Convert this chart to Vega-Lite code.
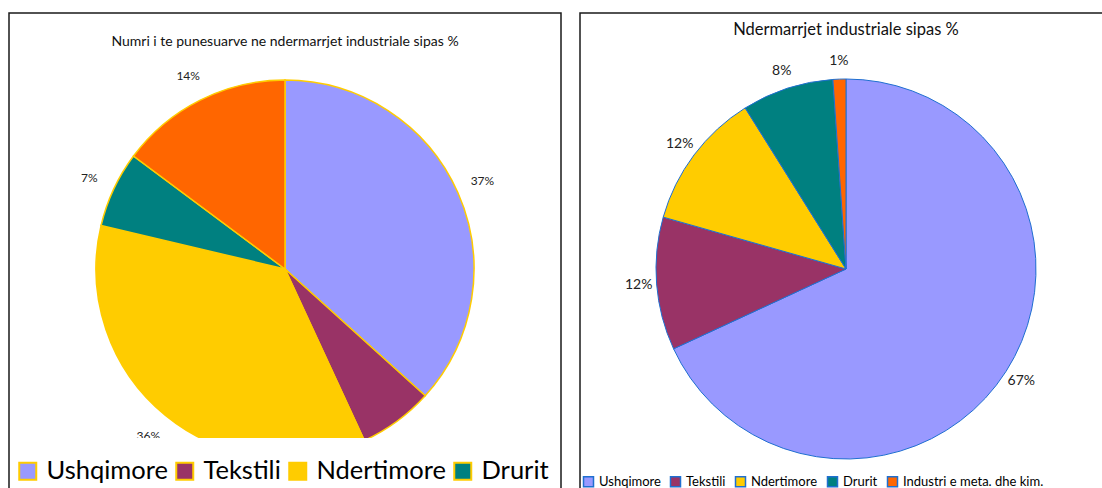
{
  "$schema": "https://vega.github.io/schema/vega-lite/v6.json",
  "background": "white",
  "padding": {"left": 8, "top": 12, "right": 0, "bottom": 0},
  "spacing": 19,
  "bounds": "flush",
  "resolve": {"scale": {"color": "independent", "theta": "independent"}, "legend": {"color": "independent"}},
  "datasets": {
    "left": [
      {"cat": "Ushqimore", "v": 36.7, "lab": "37%", "o": 1},
      {"cat": "Tekstili", "v": 6.4, "lab": "7%", "o": 2},
      {"cat": "Ndertimore", "v": 35.6, "lab": "36%", "o": 3},
      {"cat": "Drurit", "v": 6.5, "lab": "7%", "o": 4},
      {"cat": "Industri e meta. dhe kim.", "v": 14.8, "lab": "14%", "o": 5}
    ],
    "right": [
      {"cat": "Ushqimore", "v": 68.1, "lab": "67%", "o": 1},
      {"cat": "Tekstili", "v": 11.3, "lab": "12%", "o": 2},
      {"cat": "Ndertimore", "v": 11.7, "lab": "12%", "o": 3},
      {"cat": "Drurit", "v": 7.8, "lab": "8%", "o": 4},
      {"cat": "Industri e meta. dhe kim.", "v": 1.1, "lab": "1%", "o": 5}
    ]
  },
  "hconcat": [
    {
      "width": 552,
      "height": 512,
      "view": {"stroke": "#1a1a1a", "strokeWidth": 1.5, "fill": "white"},
      "title": {"text": "Numri i te punesuarve ne ndermarrjet industriale sipas %", "offset": -43, "baseline": "middle", "fontSize": 14, "font": "Lato", "fontWeight": "normal", "color": "#111", "anchor": "middle"},
      "data": {"name": "left"},
      "layer": [
        {
          "mark": {"type": "arc", "outerRadius": 189, "stroke": "#FFCC00", "strokeWidth": 1.5},
          "encoding": {
            "theta": {"field": "v", "type": "quantitative", "stack": true},
            "order": {"field": "o", "type": "quantitative"},
            "color": {
              "field": "cat", "type": "nominal",
              "scale": {"domain": ["Ushqimore", "Tekstili", "Ndertimore", "Drurit", "Industri e meta. dhe kim."], "range": ["#9999FF", "#993366", "#FFCC00", "#008080", "#FF6600"]},
              "legend": {
                "orient": "none", "legendX": 4, "legendY": 425, "direction": "horizontal", "columns": 4,
                "values": ["Ushqimore", "Tekstili", "Ndertimore", "Drurit"],
                "title": " ", "titleFontSize": 11, "titlePadding": 7,
                "padding": 2, "fillColor": "white", "strokeColor": null,
                "symbolType": "square", "symbolSize": 289, "symbolStrokeColor": "#FFCC00", "symbolStrokeWidth": 2,
                "labelFont": "Lato", "labelFontSize": 25.5, "labelColor": "#000", "labelOffset": 6, "columnPadding": 4, "labelLimit": 400
              }
            }
          }
        },
        {
          "mark": {"type": "text", "radius": 216, "font": "Lato", "fontSize": 12, "color": "#222"},
          "encoding": {
            "theta": {"field": "v", "type": "quantitative", "stack": true},
            "order": {"field": "o", "type": "quantitative"},
            "text": {"field": "lab", "type": "nominal"}
          }
        }
      ]
    },
    {
      "width": 532,
      "height": 512,
      "view": {"stroke": "#1a1a1a", "strokeWidth": 1.5, "fill": "white"},
      "title": {"text": "Ndermarrjet industriale sipas %", "offset": -33, "baseline": "middle", "fontSize": 16.5, "font": "Lato", "fontWeight": "normal", "color": "#111", "anchor": "middle"},
      "data": {"name": "right"},
      "layer": [
        {
          "mark": {"type": "arc", "outerRadius": 190, "stroke": "#1F6FD0", "strokeWidth": 1},
          "encoding": {
            "theta": {"field": "v", "type": "quantitative", "stack": true},
            "order": {"field": "o", "type": "quantitative"},
            "color": {
              "field": "cat", "type": "nominal",
              "scale": {"domain": ["Ushqimore", "Tekstili", "Ndertimore", "Drurit", "Industri e meta. dhe kim."], "range": ["#9999FF", "#993366", "#FFCC00", "#008080", "#FF6600"]},
              "legend": {
                "orient": "none", "legendX": 2, "legendY": 462, "direction": "horizontal", "columns": 5,
                "title": null, "padding": 0,
                "symbolType": "square", "symbolSize": 100, "symbolStrokeColor": "#1F6FD0", "symbolStrokeWidth": 1.5,
                "labelFont": "Lato", "labelFontSize": 13, "labelColor": "#000", "labelOffset": 4, "columnPadding": 6, "labelLimit": 400
              }
            }
          }
        },
        {
          "mark": {"type": "text", "radius": 208, "font": "Lato", "fontSize": 14, "color": "#222"},
          "encoding": {
            "theta": {"field": "v", "type": "quantitative", "stack": true},
            "order": {"field": "o", "type": "quantitative"},
            "text": {"field": "lab", "type": "nominal"}
          }
        }
      ]
    }
  ],
  "config": {
    "view": {"stroke": "#1a1a1a", "strokeWidth": 1.5, "fill": "white"}
  }
}
